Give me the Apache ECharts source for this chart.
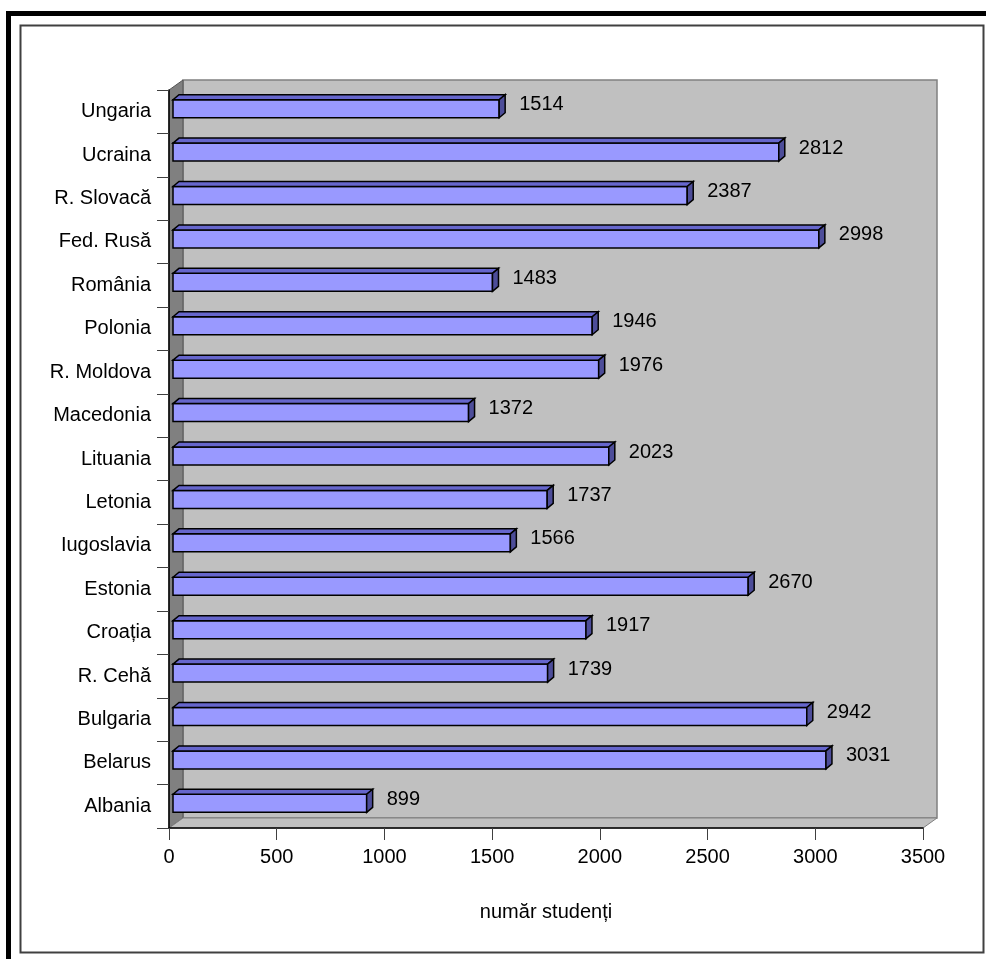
<!DOCTYPE html>
<html>
<head>
<meta charset="utf-8">
<script src="https://cdn.jsdelivr.net/npm/echarts@6/dist/echarts.min.js"></script>
<style>
  html, body { margin: 0; padding: 0; background: #fff; }
  #chart { width: 986px; height: 959px; }
</style>
</head>
<body>
<div id="chart"></div>
<script>
// tari (de jos in sus, ca in grafic)
var countries = ['Albania', 'Belarus', 'Bulgaria', 'R. Cehă', 'Croația', 'Estonia',
  'Iugoslavia', 'Letonia', 'Lituania', 'Macedonia', 'R. Moldova', 'Polonia',
  'România', 'Fed. Rusă', 'R. Slovacă', 'Ucraina', 'Ungaria'];
var students = [899, 3031, 2942, 1739, 1917, 2670, 1566, 1737, 2023, 1372,
  1976, 1946, 1483, 2998, 2387, 2812, 1514];
var xTicks = [0, 500, 1000, 1500, 2000, 2500, 3000, 3500];

var FONT = 'Liberation Sans, Arial, sans-serif';
var WALL_DX = 14, WALL_DY = -10;   // adancimea peretilor
var BAR_DX = 6, BAR_DY = -5;       // adancimea barelor

// peretii 3D (fundal gri, perete stang, podea)
function renderWalls(params, api) {
  var r = params.coordSys;
  var x0 = r.x, y0 = r.y, x1 = r.x + r.width, y1 = r.y + r.height;
  return {
    type: 'group',
    children: [
      {
        type: 'rect',
        shape: { x: x0 + WALL_DX, y: y0 + WALL_DY, width: r.width, height: r.height },
        style: { fill: '#C0C0C0', stroke: '#808080', lineWidth: 1.5 }
      },
      {
        type: 'polygon',
        shape: { points: [[x0, y0], [x0 + WALL_DX, y0 + WALL_DY], [x0 + WALL_DX, y1 + WALL_DY], [x0, y1]] },
        style: { fill: '#808080', stroke: '#555', lineWidth: 1 }
      },
      {
        type: 'polygon',
        shape: { points: [[x0, y1], [x0 + WALL_DX, y1 + WALL_DY], [x1 + WALL_DX, y1 + WALL_DY], [x1, y1]] },
        style: { fill: '#C0C0C0', stroke: '#808080', lineWidth: 1 }
      }
    ]
  };
}

// bara 3D cu eticheta
function renderBar(params, api) {
  var cat = api.value(0);
  var val = api.value(1);
  var p0 = api.coord([0, cat]);
  var p1 = api.coord([val, cat]);
  var fx0 = p0[0] + 4, fx1 = p1[0] + 4;
  var fy0 = p0[1] - 12, fy1 = p0[1] + 6;
  return {
    type: 'group',
    children: [
      {
        type: 'rect',
        shape: { x: fx0, y: fy0, width: fx1 - fx0, height: fy1 - fy0 },
        style: { fill: '#9999FF', stroke: '#000', lineWidth: 1.5 }
      },
      {
        type: 'polygon',
        shape: { points: [[fx0, fy0], [fx0 + BAR_DX, fy0 + BAR_DY], [fx1 + BAR_DX, fy0 + BAR_DY], [fx1, fy0]] },
        style: { fill: '#6666CC', stroke: '#000', lineWidth: 1.5 }
      },
      {
        type: 'polygon',
        shape: { points: [[fx1, fy0], [fx1 + BAR_DX, fy0 + BAR_DY], [fx1 + BAR_DX, fy1 + BAR_DY], [fx1, fy1]] },
        style: { fill: '#4D4D99', stroke: '#000', lineWidth: 1.5 }
      },
      {
        type: 'text',
        style: {
          x: fx1 + BAR_DX + 14,
          y: (fy0 + fy1) / 2 - 4,
          text: String(val),
          fill: '#000',
          font: '20px ' + FONT,
          verticalAlign: 'middle',
          align: 'left'
        }
      }
    ]
  };
}

var chart = echarts.init(document.getElementById('chart'));
var option = {
  animation: false,
  backgroundColor: '#fff',
  graphic: [
    { type: 'rect', shape: { x: 6, y: 11, width: 980, height: 5 }, style: { fill: '#000' } },
    { type: 'rect', shape: { x: 6, y: 11, width: 5, height: 948 }, style: { fill: '#000' } },
    { type: 'rect', shape: { x: 20.5, y: 25.5, width: 963, height: 927 }, style: { fill: 'none', stroke: '#404040', lineWidth: 2 } }
  ],
  grid: { left: 169, top: 90, width: 754, height: 738 },
  xAxis: {
    type: 'value',
    min: xTicks[0],
    max: xTicks[xTicks.length - 1],
    interval: 500,
    name: 'număr studenți',
    nameLocation: 'middle',
    nameGap: 74,
    nameTextStyle: { fontFamily: FONT, fontSize: 20, color: '#000' },
    axisLine: { show: true, lineStyle: { color: '#000', width: 1.5 } },
    axisTick: { show: true, length: 12, lineStyle: { color: '#404040' } },
    axisLabel: {
      margin: 19, fontFamily: FONT, fontSize: 20, color: '#000',
      formatter: function (v) { return String(v); }
    },
    splitLine: { show: false }
  },
  yAxis: {
    type: 'category',
    data: countries,
    axisLine: { show: true, lineStyle: { color: '#000', width: 1.5 } },
    axisTick: { show: true, length: 12, lineStyle: { color: '#404040' } },
    axisLabel: { margin: 18, fontFamily: FONT, fontSize: 20, color: '#000' },
    splitLine: { show: false }
  },
  series: [
    {
      type: 'custom',
      z: -1,
      silent: true,
      renderItem: renderWalls,
      data: [[0, 0]]
    },
    {
      type: 'custom',
      z: 3,
      renderItem: renderBar,
      encode: { x: 1, y: 0 },
      data: students.map(function (v, i) { return [i, v]; })
    }
  ]
};
chart.setOption(option);
</script>
</body>
</html>
